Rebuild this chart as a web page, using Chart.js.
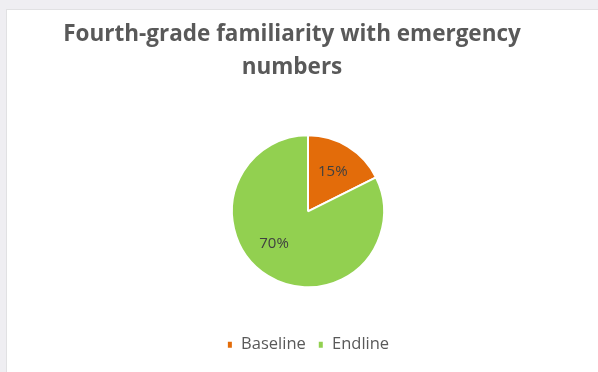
<!DOCTYPE html>
<html>
<head>
<meta charset="utf-8">
<script src="https://cdn.jsdelivr.net/npm/chart.js@4/dist/chart.umd.min.js"></script>
<style>
    html, body { margin: 0; padding: 0; }
    body { width: 598px; height: 372px; background: #efeef2; overflow: hidden; position: relative; }
    .panel {
        position: absolute; left: 6px; top: 9px; width: 600px; height: 370px;
        background: #fff; border: 1px solid #e1e1e3; box-sizing: border-box;
    }
    .chart-box { position: absolute; left: 0; top: 0; width: 592px; height: 363px; }
</style>
</head>
<body>
<div class="panel">
    <div class="chart-box"><canvas id="familiarityChart"></canvas></div>
</div>
<script>
const TITLE_LINES = ['Fourth-grade familiarity with emergency', 'numbers'];
const CATEGORIES  = ['Baseline', 'Endline'];
const PERCENTAGES = [15, 70];
const COLORS      = ['#e36c0a', '#92d050'];

const TEXT_GREY = '#595959';

// percentage labels drawn inside each slice
const sliceLabels = {
    id: 'sliceLabels',
    afterDatasetsDraw(chart) {
        const { ctx } = chart;
        const meta = chart.getDatasetMeta(0);
        ctx.save();
        ctx.font = '15px "Open Sans", sans-serif';
        ctx.fillStyle = '#404040';
        ctx.textAlign = 'center';
        ctx.textBaseline = 'middle';
        meta.data.forEach((arc, i) => {
            const { x, y, startAngle, endAngle, outerRadius } = arc.getProps(['x', 'y', 'startAngle', 'endAngle', 'outerRadius'], true);
            const mid = (startAngle + endAngle) / 2 + (i === 1 ? 0.25 : 0);
            const d = outerRadius * 0.62;
            ctx.fillText(PERCENTAGES[i] + '%', x + Math.cos(mid) * d, y + Math.sin(mid) * d);
        });
        ctx.restore();
    },
};

// title sits a little left of the plot centre
const titleShift = {
    id: 'titleShift',
    afterLayout(chart) {
        if (!chart.titleBlock) return;
        chart.titleBlock.left -= 16;
        chart.titleBlock.right -= 16;
    },
};

new Chart(document.getElementById('familiarityChart'), {
    type: 'pie',
    data: {
        labels: CATEGORIES,
        datasets: [{
            data: PERCENTAGES,
            backgroundColor: COLORS,
            borderColor: '#ffffff',
            borderWidth: 2,
            radius: 76,
        }],
    },
    options: {
        responsive: true,
        maintainAspectRatio: false,
        animation: false,
        layout: { padding: { left: 10, right: 0, top: 0, bottom: 10 } },
        plugins: {
            title: {
                display: true,
                text: TITLE_LINES,
                color: TEXT_GREY,
                font: { family: '"Open Sans", sans-serif', size: 22.5, weight: 'bold', lineHeight: 1.47 },
                padding: { top: 8, bottom: 14 },
            },
            legend: {
                position: 'bottom',
                labels: {
                    color: TEXT_GREY,
                    font: { family: '"Open Sans", sans-serif', size: 16.5 },
                    boxWidth: 6,
                    boxHeight: 8,
                    padding: 12,
                },
            },
            tooltip: { enabled: false },
        },
    },
    plugins: [sliceLabels, titleShift],
});
</script>
</body>
</html>
